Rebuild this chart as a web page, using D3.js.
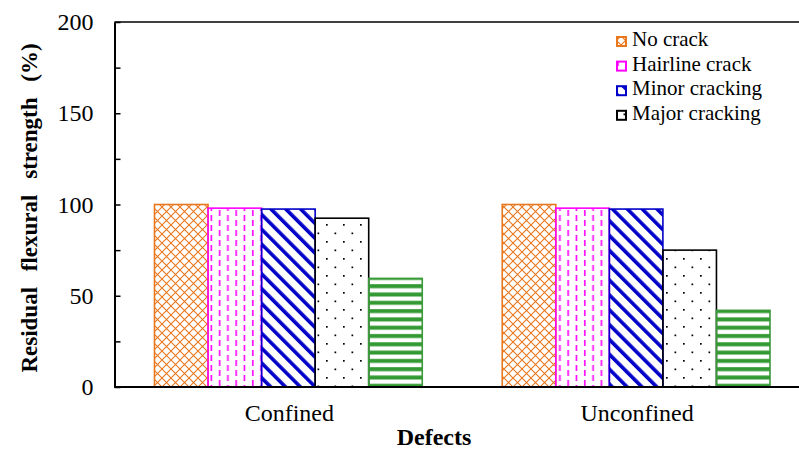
<!DOCTYPE html>
<html><head><meta charset="utf-8">
<script src="https://cdn.jsdelivr.net/npm/d3@7"></script>
<style>
body{margin:0;background:#fff;}
</style></head>
<body><svg id="c" width="799" height="452" style="display:block"></svg>
<script>
const categories = ["Confined", "Unconfined"];
const seriesNames = ["No crack", "Hairline crack", "Minor cracking", "Major cracking", "Severe cracking"];
const noCrack = [100, 100];
const hairline = [98, 98];
const minor = [97.5, 97.5];
const major = [92.5, 75];
const severe = [59.5, 42];
const yTicks = [0, 25, 50, 75, 100, 125, 150, 175, 200];
const legendNames = ["No crack", "Hairline crack", "Minor cracking", "Major cracking"];
const values = [noCrack, hairline, minor, major, severe];

const FONT = "Liberation Serif";
const svg = d3.select("#c");
const L = 114.5, R = 810, T = 22, B = 387;
const x = d3.scaleBand().domain(categories).range([L, R]);
const y = d3.scaleLinear().domain([0, 200]).range([B, T]);
const groupW = x.bandwidth() * 0.77;
const xs = d3.scaleBand().domain(d3.range(seriesNames.length)).range([0, groupW]);

const defs = svg.append("defs");
const p0 = defs.append("pattern").attr("id", "p0").attr("patternUnits", "userSpaceOnUse")
  .attr("width", 9).attr("height", 9);
p0.append("path").attr("d", "M0,0L9,9M9,0L0,9").attr("stroke", "#E8771E").attr("stroke-width", 1.1).attr("fill", "none");
const p1 = defs.append("pattern").attr("id", "p1").attr("patternUnits", "userSpaceOnUse")
  .attr("width", 16.6).attr("height", 10);
p1.append("rect").attr("x", 3).attr("y", 0).attr("width", 1.6).attr("height", 6).attr("fill", "#FF00FF");
p1.append("rect").attr("x", 11.3).attr("y", 5).attr("width", 1.6).attr("height", 6).attr("fill", "#FF00FF");
p1.append("rect").attr("x", 11.3).attr("y", -5).attr("width", 1.6).attr("height", 6).attr("fill", "#FF00FF");
const p2 = defs.append("pattern").attr("id", "p2").attr("patternUnits", "userSpaceOnUse")
  .attr("width", 10.5).attr("height", 10).attr("patternTransform", "rotate(-45)");
p2.append("rect").attr("x", 0).attr("y", 0).attr("width", 3.6).attr("height", 10).attr("fill", "#0000C8");
const p3 = defs.append("pattern").attr("id", "p3").attr("patternUnits", "userSpaceOnUse")
  .attr("width", 17).attr("height", 17);
p3.append("rect").attr("x", 3).attr("y", 3).attr("width", 1.7).attr("height", 1.7).attr("fill", "#000");
p3.append("rect").attr("x", 11.5).attr("y", 11.5).attr("width", 1.7).attr("height", 1.7).attr("fill", "#000");
const p4 = defs.append("pattern").attr("id", "p4").attr("patternUnits", "userSpaceOnUse")
  .attr("width", 10).attr("height", 8.3);
p4.append("rect").attr("x", 0).attr("y", 2).attr("width", 10).attr("height", 4).attr("fill", "#339933");

const strokes = ["#E8771E", "#FF00FF", "#0000C8", "#000000", "#3A9A3A"];

values.forEach((arr, si) => {
  svg.append("g").selectAll("rect").data(categories).join("rect")
    .attr("x", (c) => x(c) + (x.bandwidth() - groupW) / 2 + xs(si))
    .attr("y", (c, i) => y(arr[i]))
    .attr("width", xs.bandwidth())
    .attr("height", (c, i) => B - y(arr[i]))
    .attr("fill", "url(#p" + si + ")")
    .attr("stroke", strokes[si])
    .attr("stroke-width", 1.6);
});

svg.append("line").attr("x1", L).attr("x2", R).attr("y1", T).attr("y2", T).attr("stroke", "#000").attr("stroke-width", 1.5);
svg.append("line").attr("x1", L).attr("x2", R).attr("y1", B).attr("y2", B).attr("stroke", "#000").attr("stroke-width", 2);

const ya = svg.append("g").attr("transform", `translate(${L},0)`)
  .call(d3.axisLeft(y).tickValues(yTicks).tickSizeInner(-6).tickSizeOuter(0).tickPadding(21)
    .tickFormat(d => d % 50 === 0 ? d : ""));
ya.attr("font-family", FONT).attr("font-size", 24);
ya.select(".domain").attr("stroke-width", 2);
ya.selectAll(".tick line").attr("stroke-width", 1.5);
ya.selectAll("text").attr("font-family", FONT).attr("font-size", 24).attr("fill", "#000");

svg.append("g").selectAll("text").data(categories).join("text")
  .attr("x", c => x(c) + x.bandwidth() / 2 + 1).attr("y", 421)
  .attr("font-family", FONT)
  .attr("text-anchor", "middle").attr("font-size", 24).text(c => c);

svg.append("text").attr("x", 434).attr("y", 445).attr("text-anchor", "middle")
  .attr("font-family", FONT)
  .attr("font-size", 24).attr("font-weight", "bold").text("Defects");

svg.append("text").attr("transform", "translate(37,208) rotate(-90)")
  .attr("font-family", FONT)
  .attr("text-anchor", "middle").attr("font-size", 23).attr("font-weight", "bold")
  .attr("word-spacing", 10)
  .text("Residual flexural strength (%)");

const lg = svg.append("g");
legendNames.forEach((n, i) => {
  const yy = 46 + i * 24.6;
  lg.append("rect").attr("x", 617).attr("y", yy - 9).attr("width", 9).attr("height", 9)
    .attr("fill", "url(#p" + i + ")").attr("stroke", strokes[i]).attr("stroke-width", 2);
  lg.append("text").attr("x", 632).attr("y", yy).attr("font-family", FONT).attr("font-size", 21).text(n);
});
</script></body></html>
